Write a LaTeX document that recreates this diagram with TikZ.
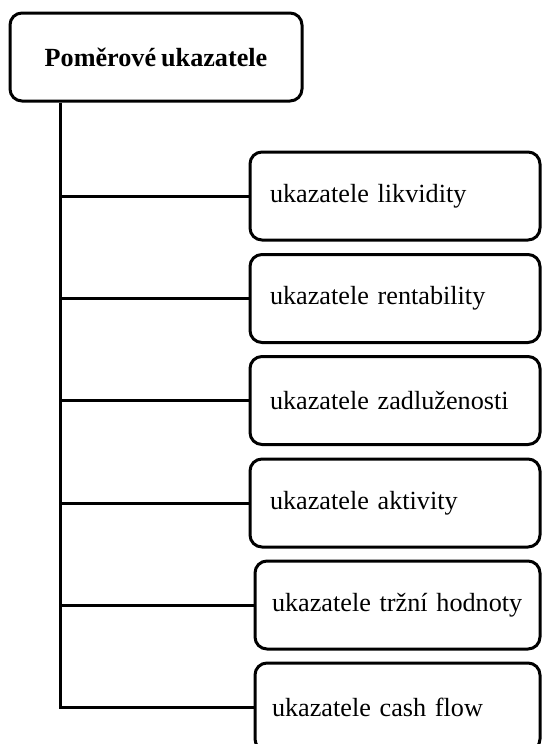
\documentclass[tikz,border=0pt]{standalone}
\usepackage{fontspec}
\setmainfont[WordSpace=0.75]{Liberation Serif}
\usetikzlibrary{calc}

\tikzset{
  rootbox/.style={draw, line width=1.5pt, rounded corners=6pt, minimum width=146pt, minimum height=44pt, font=\fontsize{13.1}{15}\selectfont\bfseries},
  kindbox/.style={draw, line width=1.5pt, rounded corners=6pt, minimum height=44pt, inner xsep=10pt, text width=125pt, align=left, font=\fontsize{13.1}{15}\selectfont},
  kindboxb/.style={kindbox, inner xsep=8.5pt, text width=125.5pt},
  branch/.style={line width=1.5pt}
}

\begin{document}
\begin{tikzpicture}[x=0.5pt, y=-0.5pt]
			%%%%% START %%%%%
			\useasboundingbox (0, 0) rectangle (542, 744);
			\clip (0, 0) rectangle (542, 744);
			
			\node[rootbox] (root) at (156, 57) {Poměrové ukazatele};
			
			\node[kindbox] (likv) at (395, 196) {\mbox{ukazatele likvidity}};
			\node[kindbox] (rent) at (395, 298.5) {\mbox{ukazatele rentability}};
			\node[kindbox] (zadl) at (395, 400.5) {\mbox{ukazatele zadluženosti}};
			\node[kindbox] (akt) at (395, 503) {\mbox{ukazatele aktivity}};
			\node[kindboxb] (trh) at (397.5, 605) {\mbox{ukazatele tržní hodnoty}};
			\node[kindboxb] (cash) at (397.5, 707) {\mbox{ukazatele cash flow}};
			
			\coordinate (trunk) at ($(root.south west)+(52, 0)$);
			
			\draw[branch] (trunk) |- (cash.west);
			\foreach \kind in {likv, rent, zadl, akt, trh}
				\draw[branch] (trunk |- \kind.west) -- (\kind.west);
			
			%%%%% END %%%%%
\end{tikzpicture}
\end{document}
